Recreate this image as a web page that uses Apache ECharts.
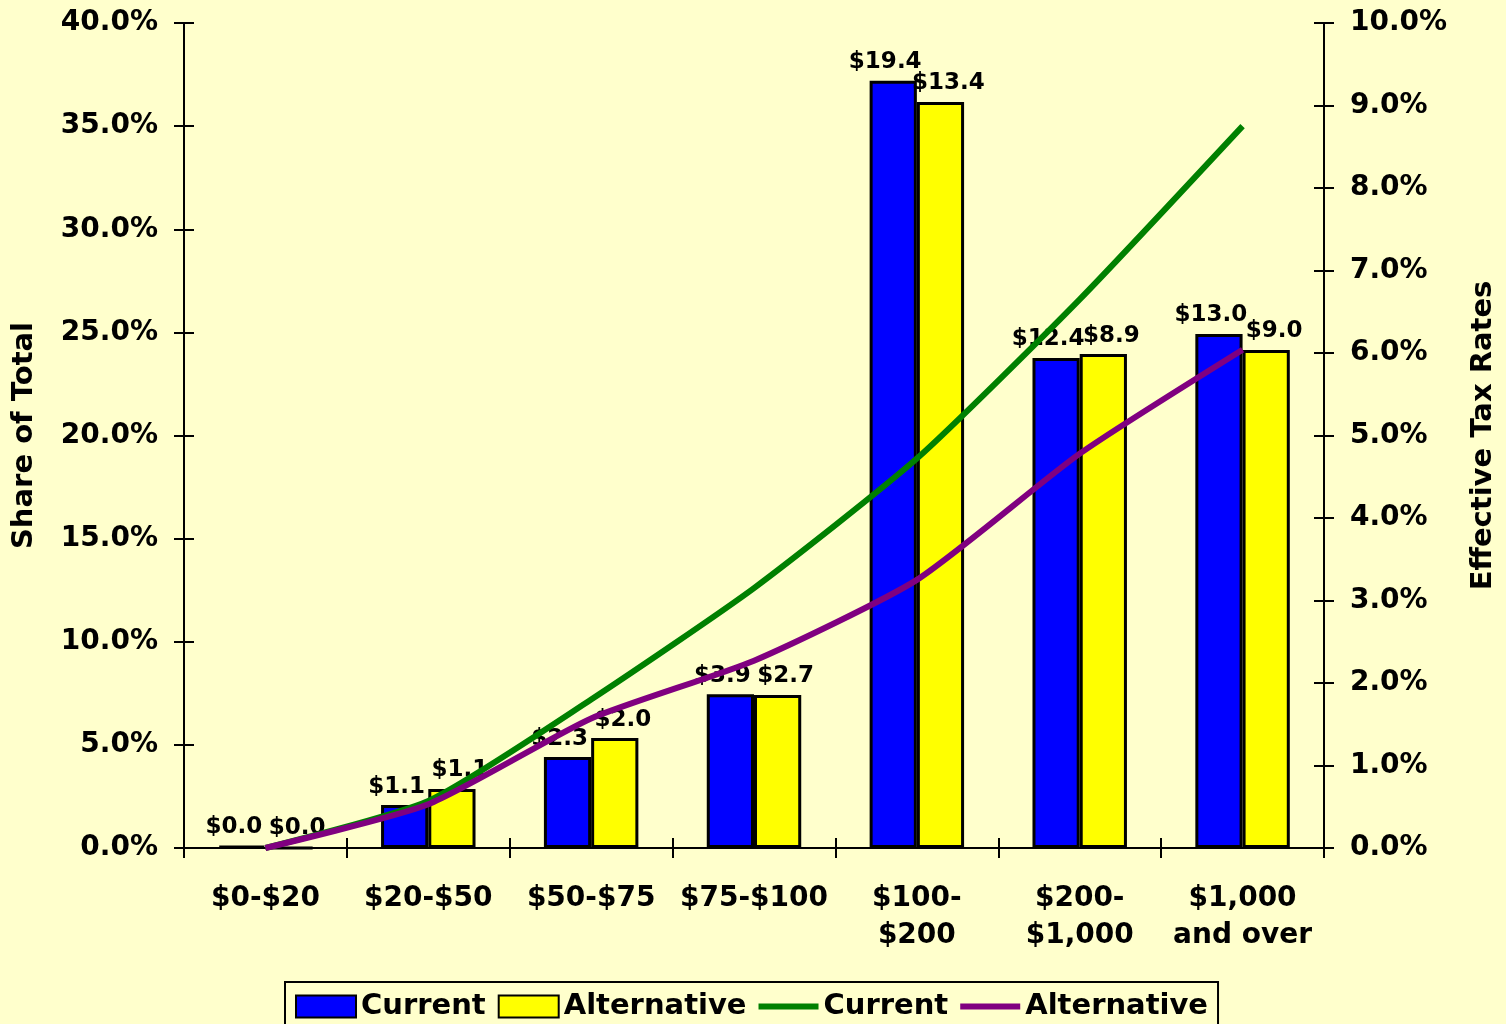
<!DOCTYPE html>
<html>
<head>
<meta charset="utf-8">
<title>Share of Total and Effective Tax Rates</title>
<script src="https://cdn.jsdelivr.net/npm/echarts@6/dist/echarts.min.js"></script>
<style>
  html, body { margin: 0; padding: 0; background: #FFFFCC; }
  #chart { width: 1506px; height: 1024px; }
</style>
</head>
<body>
<div id="chart"></div>
<script>
// Income classes (thousands of dollars)
const categories = ['$0-$20', '$20-$50', '$50-$75', '$75-$100', '$100-\n$200', '$200-\n$1,000', '$1,000\nand over'];

// Share of total (%), left axis
const shareCurrent     = [0.1, 2.08, 4.41, 7.45, 37.2, 23.76, 24.92];
const shareAlternative = [0.0, 2.86, 5.33, 7.42, 36.17, 23.95, 24.15];

// Dollar amounts shown above the bars (billions)
const dollarsCurrent     = [0.0, 1.1, 2.3, 3.9, 19.4, 12.4, 13.0];
const dollarsAlternative = [0.0, 1.1, 2.0, 2.7, 13.4, 8.9, 9.0];

// Effective tax rates (%), right axis
const rateCurrent     = [0.0, 0.57, 1.8, 3.15, 4.72, 6.65, 8.75];
const rateAlternative = [0.0, 0.53, 1.57, 2.27, 3.25, 4.78, 6.04];

const FONT = 'DejaVu Sans';
const chart = echarts.init(document.getElementById('chart'));

const pct = v => v.toFixed(1) + '%';
const tickLabel = { fontFamily: FONT, fontWeight: 'bold', fontSize: 28, color: '#000' };
const axisLineStyle = { show: true, lineStyle: { color: '#000', width: 2 } };

// Axes are doubled so the ticks cross the axis lines
function valueAxis(position, max, interval, inside, withLabels, name) {
  return {
    type: 'value',
    position: position,
    min: 0, max: max, interval: interval,
    name: withLabels ? name : '',
    nameLocation: 'middle',
    nameRotate: 90,
    nameGap: 145,
    nameTextStyle: { fontFamily: FONT, fontWeight: 'bold', fontSize: 29, color: '#000' },
    axisLine: axisLineStyle,
    axisTick: { show: true, inside: inside, length: 10, lineStyle: { color: '#000', width: 2 } },
    axisLabel: withLabels ? Object.assign({ margin: 26, formatter: pct }, tickLabel) : { show: false },
    splitLine: { show: false }
  };
}

function categoryAxis(inside, withLabels) {
  return {
    type: 'category',
    data: categories,
    position: 'bottom',
    axisLine: axisLineStyle,
    axisTick: { show: true, inside: inside, length: 10, lineStyle: { color: '#000', width: 2 } },
    axisLabel: withLabels ? {
      interval: 0, margin: 32, lineHeight: 37,
      fontFamily: FONT, fontWeight: 'bold', fontSize: 28, color: '#000'
    } : { show: false },
    splitLine: { show: false }
  };
}

const barLabel = (values, dx) => ({
  show: true,
  position: 'top',
  distance: 7,
  offset: [dx, 0],
  fontFamily: FONT, fontWeight: 'bold', fontSize: 23, color: '#000',
  formatter: p => '$' + values[p.dataIndex].toFixed(1)
});

// Legend swatch for the rate lines: a thick horizontal stroke
const lineIcon = 'path://M0,0L60,0L60,6L0,6Z';

chart.setOption({
  backgroundColor: '#FFFFCC',
  animation: false,
  grid: { left: 184, right: 182, top: 23, bottom: 176, outerBoundsMode: 'none', containLabel: false },
  xAxis: [categoryAxis(false, true), categoryAxis(true, false)],
  yAxis: [
    valueAxis('left', 40, 5, false, true, 'Share of Total'),
    valueAxis('right', 10, 1, false, true, 'Effective Tax Rates'),
    valueAxis('left', 40, 5, true, false, ''),
    valueAxis('right', 10, 1, true, false, '')
  ],
  legend: {
    left: 285, top: 982,
    padding: [10, 10, 8, 10],
    itemGap: 12,
    itemWidth: 60, itemHeight: 22,
    borderColor: '#000', borderWidth: 2,
    backgroundColor: '#FFFFCC',
    textStyle: { fontFamily: FONT, fontWeight: 'bold', fontSize: 29, color: '#000' },
    formatter: name => name.replace(' rate', ''),
    data: [
      { name: 'Current', icon: 'rect' },
      { name: 'Alternative', icon: 'rect' },
      { name: 'Current rate', icon: lineIcon, itemStyle: { color: '#008000', borderWidth: 0 } },
      { name: 'Alternative rate', icon: lineIcon, itemStyle: { color: '#800080', borderWidth: 0 } }
    ]
  },
  series: [
    {
      name: 'Current', type: 'bar', xAxisIndex: 0, yAxisIndex: 0,
      data: shareCurrent,
      barGap: '0%', barCategoryGap: '42%',
      itemStyle: { color: '#0000FF', borderColor: '#000', borderWidth: 3 },
      label: barLabel(dollarsCurrent, -8)
    },
    {
      name: 'Alternative', type: 'bar', xAxisIndex: 0, yAxisIndex: 0,
      data: shareAlternative,
      barGap: '0%', barCategoryGap: '42%',
      itemStyle: { color: '#FFFF00', borderColor: '#000', borderWidth: 3 },
      label: barLabel(dollarsAlternative, 8)
    },
    {
      name: 'Current rate', type: 'line', xAxisIndex: 0, yAxisIndex: 1,
      data: rateCurrent,
      smooth: 0.2, symbol: 'none', showSymbol: false, z: 5,
      lineStyle: { color: '#008000', width: 6 },
      itemStyle: { color: '#008000' }
    },
    {
      name: 'Alternative rate', type: 'line', xAxisIndex: 0, yAxisIndex: 1,
      data: rateAlternative,
      smooth: 0.2, symbol: 'none', showSymbol: false, z: 5,
      lineStyle: { color: '#800080', width: 6 },
      itemStyle: { color: '#800080' }
    }
  ]
});
</script>
</body>
</html>
